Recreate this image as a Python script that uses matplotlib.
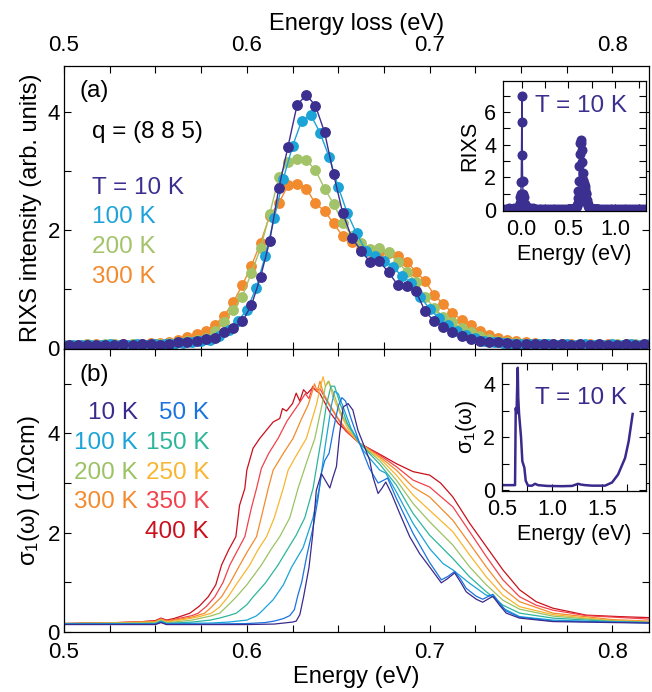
import numpy as np
import matplotlib
matplotlib.use("Agg")
import matplotlib.pyplot as plt
from matplotlib.ticker import MultipleLocator

plt.rcParams["font.family"] = "Liberation Sans"
plt.rcParams["mathtext.fontset"] = "custom"
plt.rcParams["mathtext.rm"] = "Liberation Sans"
plt.rcParams["mathtext.it"] = "Liberation Sans:italic"

# ---------------- RIXS data, panel (a) ----------------
E_rixs = np.round(0.5025 + 0.005 * np.arange(64), 4)   # 10 K, 200 K, 300 K
E_rixs_100 = np.round(0.500 + 0.005 * np.arange(65), 4)  # 100 K

rixs_10K = [0.05, 0.05, 0.05, 0.05, 0.05, 0.05, 0.06, 0.05, 0.06, 0.06,
            0.05, 0.07, 0.09, 0.10, 0.12, 0.15, 0.17, 0.27, 0.33, 0.45,
            0.72, 1.20, 1.81, 2.71, 3.41, 4.12, 4.29, 4.11, 3.66, 2.94,
            2.28, 1.86, 1.65, 1.45, 1.47, 1.28, 1.07, 1.04, 0.96, 0.62,
            0.45, 0.35, 0.27, 0.20, 0.15, 0.12, 0.10, 0.09, 0.08, 0.07,
            0.07, 0.06, 0.06, 0.06, 0.06, 0.05, 0.06, 0.05, 0.07, 0.05,
            0.05, 0.06, 0.05, 0.06]
rixs_100K = [0.05, 0.05, 0.05, 0.05, 0.05, 0.06, 0.05, 0.05, 0.06, 0.05,
             0.06, 0.06, 0.07, 0.08, 0.10, 0.12, 0.14, 0.20, 0.31, 0.45,
             0.64, 1.01, 1.55, 2.20, 2.87, 3.42, 3.85, 3.95, 3.65, 3.24,
             2.73, 2.28, 1.94, 1.65, 1.55, 1.48, 1.37, 1.21, 1.10, 0.86,
             0.66, 0.50, 0.38, 0.29, 0.22, 0.16, 0.12, 0.10, 0.08, 0.07,
             0.07, 0.06, 0.06, 0.06, 0.05, 0.06, 0.05, 0.06, 0.05, 0.05,
             0.06, 0.05, 0.06, 0.05, 0.06]
rixs_200K = [0.05, 0.05, 0.06, 0.05, 0.06, 0.06, 0.05, 0.06, 0.07, 0.06,
             0.07, 0.08, 0.10, 0.12, 0.13, 0.16, 0.29, 0.44, 0.64, 0.87,
             1.27, 1.69, 2.27, 2.89, 3.16, 3.21, 3.18, 3.02, 2.70, 2.44,
             2.12, 1.90, 1.78, 1.67, 1.69, 1.62, 1.46, 1.29, 1.12, 0.87,
             0.67, 0.53, 0.43, 0.34, 0.26, 0.20, 0.15, 0.12, 0.10, 0.08,
             0.07, 0.07, 0.06, 0.06, 0.06, 0.05, 0.06, 0.05, 0.06, 0.05,
             0.06, 0.05, 0.06, 0.05]
rixs_300K = [0.05, 0.05, 0.06, 0.06, 0.05, 0.06, 0.07, 0.06, 0.07, 0.08,
             0.08, 0.10, 0.14, 0.18, 0.23, 0.29, 0.39, 0.54, 0.77, 1.06,
             1.39, 1.78, 2.24, 2.45, 2.76, 2.78, 2.70, 2.45, 2.32, 2.11,
             1.89, 1.80, 1.68, 1.65, 1.63, 1.60, 1.56, 1.46, 1.29, 1.13,
             0.90, 0.74, 0.59, 0.47, 0.38, 0.28, 0.22, 0.17, 0.13, 0.11,
             0.09, 0.08, 0.07, 0.07, 0.06, 0.06, 0.05, 0.06, 0.05, 0.06,
             0.05, 0.06, 0.05, 0.06]

# inset (a): wide RIXS scan at 10 K
ins_a_E_left = [-0.2, -0.17, -0.14, -0.11, -0.08, -0.05, -0.03]
ins_a_I_left = [0.1, 0.1, 0.12, 0.1, 0.12, 0.15, 0.25]
ins_a_E_el = [-0.02, -0.015, -0.01, -0.005, 0.0, 0.003, 0.006, 0.01, 0.015, 0.02, 0.03, 0.04]
ins_a_I_el = [0.45, 0.8, 1.0, 1.75, 5.4, 7.0, 3.4, 1.8, 1.0, 0.8, 0.4, 0.25]
ins_a_E_mid = [0.06, 0.09, 0.12, 0.15, 0.18, 0.21, 0.24, 0.27, 0.30, 0.33, 0.36, 0.39, 0.42, 0.45, 0.48]
ins_a_I_mid = [0.18, 0.15, 0.12, 0.1, 0.1, 0.1, 0.1, 0.1, 0.1, 0.1, 0.1, 0.1, 0.1, 0.1, 0.1]
ins_a_E_right = [0.85, 0.88, 0.91, 0.94, 0.97, 1.0, 1.03, 1.06, 1.09, 1.12, 1.15, 1.18, 1.21, 1.24, 1.27, 1.30, 1.33]
ins_a_I_right = [0.1, 0.1, 0.1, 0.1, 0.1, 0.1, 0.1, 0.1, 0.1, 0.1, 0.1, 0.1, 0.1, 0.1, 0.1, 0.1, 0.1]

# ---------------- optical conductivity, panel (b) ----------------
e_10K = [0.50, 0.54, 0.55, 0.553, 0.556, 0.58, 0.60, 0.615, 0.62, 0.625,
         0.627, 0.629, 0.631, 0.634, 0.636, 0.638, 0.6408, 0.643, 0.6454, 0.647,
         0.649, 0.6508, 0.6527, 0.6554, 0.658, 0.6608, 0.6636, 0.6672, 0.669, 0.6718,
         0.674, 0.676, 0.6791, 0.6836, 0.6891, 0.6945, 0.70, 0.7064, 0.710, 0.7137,
         0.717, 0.72, 0.7255, 0.729, 0.7346, 0.738, 0.7419, 0.7492, 0.7674, 0.80, 0.82]
s_10K = [0.15, 0.15, 0.15, 0.19, 0.15, 0.15, 0.15, 0.16, 0.18, 0.20,
         0.22, 0.35, 0.70, 1.30, 1.95, 2.85, 3.19, 3.05, 2.90, 3.10,
         3.33, 4.00, 4.53, 4.60, 4.47, 4.06, 3.80, 3.46, 3.12, 2.79,
         2.90, 3.02, 2.79, 2.39, 1.92, 1.58, 1.31, 0.99, 1.08, 1.19,
         1.00, 0.81, 0.66, 0.60, 0.72, 0.55, 0.38, 0.28, 0.21, 0.19, 0.18]

e_50K = [0.50, 0.55, 0.553, 0.556, 0.58, 0.60, 0.61, 0.615, 0.62, 0.6235,
         0.626, 0.628, 0.630, 0.6326, 0.6362, 0.639, 0.6408, 0.6426, 0.645, 0.6475,
         0.650, 0.652, 0.654, 0.657, 0.6617, 0.667, 0.6718, 0.6745, 0.677, 0.6818,
         0.6909, 0.70, 0.7064, 0.710, 0.7137, 0.717, 0.72, 0.7255, 0.729, 0.7346,
         0.738, 0.7419, 0.7492, 0.7674, 0.80, 0.82]
s_50K = [0.16, 0.16, 0.2, 0.16, 0.16, 0.17, 0.19, 0.22, 0.27, 0.33,
         0.45, 0.75, 1.0, 1.5, 2.1, 2.7, 3.2, 3.45, 3.6, 4.1,
         4.55, 4.72, 4.65, 4.3, 3.8, 3.3, 3.0, 3.05, 3.1, 2.69,
         1.99, 1.4, 1.05, 1.12, 1.22, 1.06, 0.88, 0.72, 0.66, 0.76,
         0.6, 0.42, 0.3, 0.22, 0.2, 0.19]

e_100K = [0.50, 0.55, 0.553, 0.556, 0.58, 0.59, 0.60, 0.605, 0.6071, 0.6144,
          0.62, 0.6244, 0.6308, 0.6362, 0.6399, 0.6417, 0.6435, 0.6463, 0.648, 0.650,
          0.653, 0.657, 0.6617, 0.6636, 0.6727, 0.676, 0.6818, 0.6909, 0.70, 0.7073,
          0.7127, 0.7219, 0.731, 0.735, 0.7401, 0.7492, 0.7674, 0.80, 0.82]
s_100K = [0.16, 0.16, 0.21, 0.17, 0.18, 0.2, 0.24, 0.32, 0.38, 0.65,
          0.95, 1.3, 1.7, 2.3, 2.95, 3.45, 3.9, 4.57, 4.85, 4.8,
          4.5, 4.1, 3.8, 3.66, 3.26, 3.2, 2.82, 2.19, 1.68, 1.38,
          1.25, 0.98, 0.74, 0.72, 0.48, 0.31, 0.24, 0.2, 0.18]

e_150K = [0.50, 0.55, 0.553, 0.556, 0.56, 0.57, 0.58, 0.585, 0.59, 0.5943,
          0.60, 0.6035, 0.61, 0.6171, 0.622, 0.627, 0.6317, 0.6362, 0.6385, 0.6408,
          0.6435, 0.646, 0.648, 0.651, 0.655, 0.6617, 0.6727, 0.6818, 0.6909, 0.70,
          0.7127, 0.7219, 0.731, 0.7401, 0.7492, 0.7674, 0.80, 0.82]
s_150K = [0.17, 0.17, 0.22, 0.17, 0.18, 0.2, 0.24, 0.28, 0.33, 0.38,
          0.55, 0.71, 0.98, 1.35, 1.65, 1.95, 2.3, 2.89, 3.4, 3.9,
          4.57, 4.95, 4.95, 4.6, 4.2, 3.8, 3.38, 2.96, 2.39, 1.95,
          1.48, 1.11, 0.81, 0.54, 0.38, 0.28, 0.21, 0.19]

e_200K = [0.50, 0.54, 0.55, 0.553, 0.556, 0.56, 0.57, 0.575, 0.58, 0.5852,
          0.59, 0.5943, 0.60, 0.608, 0.613, 0.618, 0.6235, 0.628, 0.633, 0.6372,
          0.6411, 0.643, 0.6445, 0.647, 0.651, 0.656, 0.6617, 0.6727, 0.6818, 0.6909,
          0.70, 0.7127, 0.7219, 0.731, 0.7401, 0.7492, 0.7674, 0.80, 0.82]
s_200K = [0.17, 0.18, 0.19, 0.24, 0.19, 0.2, 0.24, 0.28, 0.32, 0.38,
          0.55, 0.71, 0.95, 1.35, 1.65, 1.92, 2.3, 2.89, 3.45, 3.9,
          4.57, 4.95, 5.05, 4.85, 4.45, 4.1, 3.8, 3.45, 3.06, 2.59,
          2.22, 1.75, 1.31, 0.95, 0.64, 0.46, 0.32, 0.22, 0.2]

e_250K = [0.50, 0.53, 0.55, 0.553, 0.556, 0.56, 0.565, 0.57, 0.575, 0.5807,
          0.585, 0.5898, 0.595, 0.6016, 0.606, 0.6108, 0.615, 0.6199, 0.6226, 0.627,
          0.6326, 0.635, 0.638, 0.640, 0.6417, 0.643, 0.645, 0.647, 0.651, 0.656,
          0.6617, 0.6727, 0.6818, 0.6909, 0.70, 0.7127, 0.7219, 0.731, 0.7401, 0.7492,
          0.7674, 0.80, 0.82]
s_250K = [0.17, 0.18, 0.2, 0.25, 0.2, 0.22, 0.25, 0.28, 0.32, 0.38,
          0.5, 0.71, 1.0, 1.35, 1.65, 1.92, 2.3, 2.89, 3.26, 3.55,
          3.9, 4.2, 4.57, 4.9, 5.14, 4.95, 5.05, 4.75, 4.4, 4.05,
          3.8, 3.5, 3.16, 2.76, 2.45, 2.02, 1.55, 1.11, 0.74, 0.51,
          0.35, 0.23, 0.21]

e_300K = [0.50, 0.52, 0.54, 0.55, 0.553, 0.556, 0.56, 0.565, 0.57, 0.577,
          0.58, 0.5862, 0.591, 0.5962, 0.60, 0.6053, 0.6085, 0.6117, 0.6144, 0.62,
          0.6253, 0.63, 0.6335, 0.6355, 0.637, 0.6385, 0.640, 0.642, 0.645, 0.65,
          0.655, 0.6617, 0.6727, 0.6818, 0.6909, 0.70, 0.7127, 0.7219, 0.731, 0.7401,
          0.7492, 0.7674, 0.80, 0.82]
s_300K = [0.17, 0.18, 0.2, 0.21, 0.26, 0.22, 0.24, 0.27, 0.3, 0.38,
          0.48, 0.71, 1.0, 1.35, 1.6, 1.92, 2.4, 2.89, 3.26, 3.6,
          3.9, 4.3, 4.57, 4.8, 5.0, 4.85, 5.05, 4.8, 4.6, 4.3,
          4.05, 3.8, 3.53, 3.26, 2.92, 2.72, 2.25, 1.78, 1.31, 0.88,
          0.61, 0.38, 0.25, 0.22]

e_350K = [0.50, 0.51, 0.53, 0.55, 0.553, 0.556, 0.56, 0.565, 0.57, 0.5734,
          0.578, 0.5825, 0.587, 0.5907, 0.595, 0.5989, 0.6025, 0.6053, 0.608, 0.612,
          0.6171, 0.622, 0.628, 0.632, 0.634, 0.636, 0.638, 0.64, 0.643, 0.648,
          0.654, 0.6617, 0.6727, 0.6818, 0.6909, 0.70, 0.7127, 0.7219, 0.731, 0.7401,
          0.7492, 0.7583, 0.7674, 0.7856, 0.82]
s_350K = [0.17, 0.18, 0.19, 0.22, 0.27, 0.23, 0.25, 0.29, 0.33, 0.38,
          0.52, 0.71, 1.0, 1.35, 1.65, 1.92, 2.5, 2.89, 3.3, 3.6,
          3.9, 4.25, 4.57, 4.8, 4.7, 4.95, 4.85, 4.9, 4.7, 4.4,
          4.05, 3.8, 3.56, 3.33, 3.06, 2.92, 2.52, 2.02, 1.52, 1.05,
          0.71, 0.54, 0.44, 0.33, 0.26]

e_400K = [0.50, 0.52, 0.54, 0.55, 0.553, 0.556, 0.56, 0.565, 0.5689, 0.574,
          0.5789, 0.583, 0.5862, 0.59, 0.594, 0.596, 0.5989, 0.600, 0.6034, 0.6071,
          0.6144, 0.618, 0.6195, 0.6217, 0.625, 0.627, 0.629, 0.631, 0.633, 0.636,
          0.64, 0.6454, 0.65, 0.6617, 0.6727, 0.6818, 0.6909, 0.70, 0.706, 0.7127,
          0.7219, 0.731, 0.7401, 0.7492, 0.7583, 0.7674, 0.7856, 0.8038, 0.82]
s_400K = [0.17, 0.18, 0.2, 0.23, 0.28, 0.24, 0.27, 0.33, 0.38, 0.52,
          0.71, 0.95, 1.35, 1.65, 1.92, 2.55, 2.89, 3.26, 3.7, 3.9,
          4.23, 4.3, 4.5, 4.45, 4.6, 4.81, 4.65, 4.88, 4.8, 4.92,
          4.8, 4.43, 4.2, 3.8, 3.58, 3.39, 3.23, 3.16, 3.0, 2.72,
          2.19, 1.72, 1.25, 0.85, 0.61, 0.48, 0.34, 0.31, 0.29]

# inset (b): wide range sigma_1 at 10 K
e_wide = [0.5, 0.55, 0.6, 0.62, 0.63, 0.637, 0.645, 0.652, 0.657, 0.662,
          0.67, 0.69, 0.703, 0.723, 0.737, 0.76, 0.80, 0.83, 0.86, 0.95,
          1.1, 1.2, 1.26, 1.29, 1.33, 1.4, 1.53, 1.6, 1.66, 1.73, 1.766, 1.806]
s_wide = [0.2, 0.2, 0.2, 0.2, 0.2, 3.1, 2.9, 4.0, 4.62, 3.5,
          2.9, 2.0, 1.1, 0.86, 0.36, 0.18, 0.18, 0.25, 0.2, 0.17,
          0.16, 0.17, 0.25, 0.22, 0.2, 0.18, 0.18, 0.3, 0.6, 1.22, 1.85, 2.88]

rixs_colors = {"10K": "#3b2f8f", "100K": "#1ca4d8", "200K": "#a3c368", "300K": "#f28a2e"}
opt_curves = [
    ("400 K", e_400K, s_400K, "#c9101c"),
    ("350 K", e_350K, s_350K, "#f2414b"),
    ("300 K", e_300K, s_300K, "#f38b2d"),
    ("250 K", e_250K, s_250K, "#f9b52f"),
    ("200 K", e_200K, s_200K, "#9bc263"),
    ("150 K", e_150K, s_150K, "#2db59b"),
    ("100 K", e_100K, s_100K, "#1aa3d9"),
    ("50 K", e_50K, s_50K, "#1a73e0"),
    ("10 K", e_10K, s_10K, "#3a2a8c"),
]

TICK = 16
LAB = 17
TXT = 17.5
INS = 15.5


def style_axes(ax, fs=TICK, xpad=7, ypad=3):
    ax.tick_params(which="both", direction="in", top=True, right=True,
                   labelsize=fs, length=5, width=0.8)
    ax.tick_params(axis="x", pad=xpad)
    ax.tick_params(axis="y", pad=ypad)
    for sp in ax.spines.values():
        sp.set_linewidth(0.9)


fig = plt.figure(figsize=(6.52, 6.92), dpi=100)

# ---------- panel (a) ----------
ax_a = fig.add_axes([0.0982, 0.4957, 0.8972, 0.4089])
ax_a.plot(E_rixs, rixs_300K, "-o", color=rixs_colors["300K"], ms=6.8, lw=1)
ax_a.plot(E_rixs, rixs_200K, "-o", color=rixs_colors["200K"], ms=6.8, lw=1)
ax_a.plot(E_rixs_100, rixs_100K, "-o", color=rixs_colors["100K"], ms=6.8, lw=1)
ax_a.plot(E_rixs, rixs_10K, "-o", color=rixs_colors["10K"], ms=6.8, lw=1)
ax_a.set_xlim(0.5, 0.82)
ax_a.set_ylim(-0.02, 4.78)
ax_a.xaxis.set_major_locator(MultipleLocator(0.1))
ax_a.xaxis.set_minor_locator(MultipleLocator(0.025))
ax_a.yaxis.set_major_locator(MultipleLocator(2))
ax_a.yaxis.set_minor_locator(MultipleLocator(1))
style_axes(ax_a)
ax_a.tick_params(labelbottom=False, labeltop=True)
ax_a.xaxis.set_label_position("top")
ax_a.set_xlabel("Energy loss (eV)", fontsize=LAB, labelpad=4)
ax_a.set_ylabel("RIXS intensity (arb. units)", fontsize=LAB, labelpad=4)
ax_a.text(0.026, 0.912, "(a)", transform=ax_a.transAxes, fontsize=TXT, va="center")
ax_a.text(0.048, 0.767, "q = (8 8 5)", transform=ax_a.transAxes, fontsize=TXT, va="center")
for label, y, key in [("T = 10 K", 0.569, "10K"), ("100 K", 0.466, "100K"),
                      ("200 K", 0.360, "200K"), ("300 K", 0.254, "300K")]:
    ax_a.text(0.048, y, label, transform=ax_a.transAxes, fontsize=TXT,
              va="center", color=rixs_colors[key])

# inset (a)
ins_a = fig.add_axes([0.7715, 0.6951, 0.2193, 0.1879])
ins_E = ins_a_E_left + ins_a_E_el + ins_a_E_mid + list(E_rixs) + ins_a_E_right
ins_I = ins_a_I_left + ins_a_I_el + ins_a_I_mid + rixs_10K + ins_a_I_right
ins_a.plot(ins_E, ins_I, "-o", color=rixs_colors["10K"], ms=6.2, lw=1)
ins_a.set_xlim(-0.2, 1.33)
ins_a.set_ylim(-0.05, 7.9)
ins_a.xaxis.set_major_locator(MultipleLocator(0.5))
ins_a.xaxis.set_minor_locator(MultipleLocator(0.25))
ins_a.yaxis.set_major_locator(MultipleLocator(2))
ins_a.yaxis.set_minor_locator(MultipleLocator(1))
ins_a.xaxis.set_major_formatter(plt.FormatStrFormatter("%.1f"))
style_axes(ins_a, fs=INS, xpad=6, ypad=5)
ins_a.set_xlabel("Energy (eV)", fontsize=INS, labelpad=3)
ins_a.set_ylabel("RIXS", fontsize=INS, labelpad=3)
ins_a.text(0.224, 0.81, "T = 10 K", transform=ins_a.transAxes, fontsize=TXT,
           va="center", color=rixs_colors["10K"])

# ---------- panel (b) ----------
ax_b = fig.add_axes([0.0982, 0.0867, 0.8972, 0.4090])
for label, e, s, c in opt_curves:
    ax_b.plot(e, s, "-", color=c, lw=0.9)
ax_b.set_xlim(0.5, 0.82)
ax_b.set_ylim(0, 5.7)
ax_b.xaxis.set_major_locator(MultipleLocator(0.1))
ax_b.xaxis.set_minor_locator(MultipleLocator(0.025))
ax_b.yaxis.set_major_locator(MultipleLocator(2))
ax_b.yaxis.set_minor_locator(MultipleLocator(1))
style_axes(ax_b)
ax_b.set_xlabel("Energy (eV)", fontsize=LAB, labelpad=2)
ax_b.set_ylabel(r"$\mathregular{\sigma_1(\omega)}$ (1/$\mathregular{\Omega}$cm)",
                fontsize=LAB, labelpad=4)
ax_b.text(0.026, 0.908, "(b)", transform=ax_b.transAxes, fontsize=TXT, va="center")

cols = dict((lab, c) for lab, e, s, c in opt_curves)
legend_rows = [("10 K", "50 K", 0.774), ("100 K", "150 K", 0.668),
               ("200 K", "250 K", 0.562), ("300 K", "350 K", 0.459),
               (None, "400 K", 0.353)]
for left, right, y in legend_rows:
    if left:
        ax_b.text(0.1265, y, left, transform=ax_b.transAxes, fontsize=TXT,
                  ha="right", va="center", color=cols[left])
    ax_b.text(0.248, y, right, transform=ax_b.transAxes, fontsize=TXT,
              ha="right", va="center", color=cols[right])

# inset (b)
ins_b = fig.add_axes([0.770, 0.2905, 0.2209, 0.185])
ins_b.plot(e_wide, s_wide, "-", color=cols["10 K"], lw=1.8)
ins_b.set_xlim(0.5, 1.94)
ins_b.set_ylim(-0.02, 4.8)
ins_b.xaxis.set_major_locator(MultipleLocator(0.5))
ins_b.xaxis.set_minor_locator(MultipleLocator(0.25))
ins_b.yaxis.set_major_locator(MultipleLocator(2))
ins_b.yaxis.set_minor_locator(MultipleLocator(1))
ins_b.xaxis.set_major_formatter(plt.FormatStrFormatter("%.1f"))
style_axes(ins_b, fs=INS, xpad=6, ypad=5)
ins_b.set_xlabel("Energy (eV)", fontsize=INS, labelpad=3)
ins_b.set_ylabel(r"$\mathregular{\sigma_1(\omega)}$", fontsize=INS, labelpad=3)
ins_b.text(0.23, 0.727, "T = 10 K", transform=ins_b.transAxes, fontsize=TXT,
           va="center", color=cols["10 K"])

fig.savefig("out.png", dpi=100)
